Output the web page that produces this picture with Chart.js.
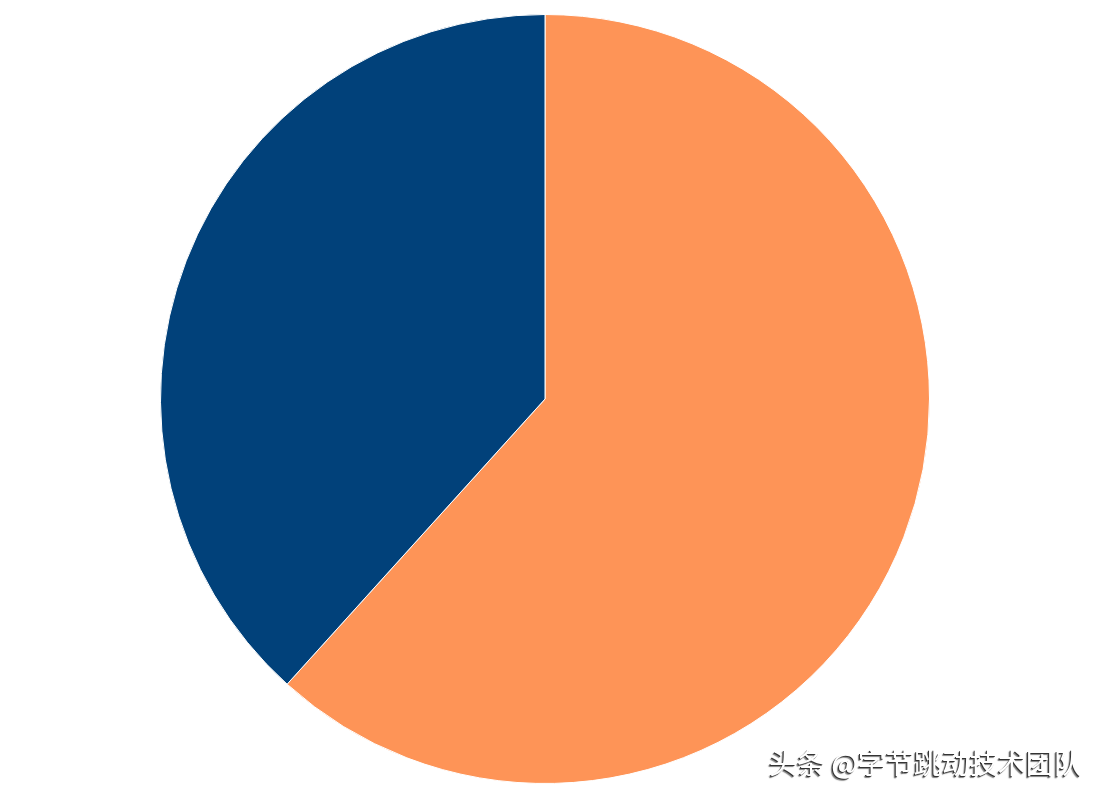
<!DOCTYPE html>
<html>
<head>
<meta charset="utf-8">
<script src="https://cdn.jsdelivr.net/npm/chart.js@4/dist/chart.umd.min.js"></script>
<style>
  html, body { margin: 0; padding: 0; background: #fff; }
  #wrap { position: relative; width: 1109px; height: 802px; }
  #watermark {
    position: absolute; left: 769px; top: 742px;
    font-family: "Noto Sans CJK SC", sans-serif; font-size: 28px;
    color: #fff; white-space: nowrap;
    text-shadow: -1px 1px 0 #333, -2px 2px 1px rgba(0,0,0,0.5);
  }
</style>
</head>
<body>
<div id="wrap">
  <canvas id="pieChart" width="1109" height="802"></canvas>
  <div id="watermark">头条 @字节跳动技术团队</div>
</div>
<script>
const labels = ['A', 'B'];
const values = [61.7, 38.3];
const colors = ['#FE9457', '#01417A'];

const ctx = document.getElementById('pieChart').getContext('2d');

new Chart(ctx, {
    type: 'pie',
    data: {
        labels: labels,
        datasets: [{
            data: values,
            backgroundColor: colors,
            borderColor: '#ffffff',
            borderWidth: 1
        }]
    },
    options: {
        responsive: false,
        animation: false,
        layout: { padding: { top: 14, bottom: 18, left: 15, right: 34 } },
        plugins: {
            legend: { display: false },
            tooltip: { enabled: false }
        }
    }
});
</script>
</body>
</html>
